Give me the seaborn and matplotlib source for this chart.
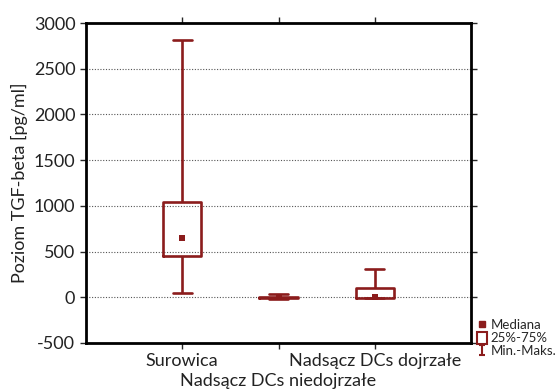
import pandas as pd
import seaborn as sns
import matplotlib.pyplot as plt
from matplotlib.lines import Line2D
from matplotlib.patches import Patch
from matplotlib.path import Path

# min, Q1, mediana, Q3, max
grupy = ["Surowica", "Nadsącz DCs niedojrzałe", "Nadsącz DCs dojrzałe"]
surowica = [45, 455, 645, 1040, 2810]
niedojrzale = [-15, -8, -3, 5, 30]
dojrzale = [-10, -5, 0, 105, 310]
ticki_y = [-500, 0, 500, 1000, 1500, 2000, 2500, 3000]

CZERWONY = "#8b1c1c"

sns.set_style("white")
plt.rcParams["font.family"] = ["Lato", "DejaVu Sans"]
plt.rcParams["axes.unicode_minus"] = False

df = pd.DataFrame({
    "grupa": [g for g, w in zip(grupy, [surowica, niedojrzale, dojrzale]) for _ in w],
    "wartosc": surowica + niedojrzale + dojrzale,
})
mediany = pd.DataFrame({
    "grupa": grupy,
    "wartosc": [surowica[2], niedojrzale[2], dojrzale[2]],
})

fig = plt.figure(figsize=(5.57, 3.91), dpi=100)
ax = fig.add_axes([0.154, 0.123, 0.692, 0.818])

# siatka pod wykresem
for y in ticki_y[1:-1]:
    ax.axhline(y, color="#555555", lw=0.8, ls=(0, (1, 1.5)), zorder=0)

sns.boxplot(data=df, x="grupa", y="wartosc", order=grupy, whis=(0, 100),
            width=0.4, fill=False, color=CZERWONY, linewidth=1.9,
            medianprops=dict(visible=False), ax=ax)
sns.stripplot(data=mediany, x="grupa", y="wartosc", order=grupy, jitter=False,
              marker="s", size=5, color=CZERWONY, linewidth=0, ax=ax, zorder=5)

ax.set_xlim(-1, 3)
ax.set_ylim(-500, 3000)
ax.set_yticks(ticki_y)
ax.set_xticks(range(len(grupy)))
# srodkowa etykieta w drugim wierszu
ax.set_xticklabels([grupy[0], "", grupy[2]], fontsize=13, color="#222222")
ax.annotate(grupy[1], xy=(1, 0), xycoords=ax.get_xaxis_transform(),
            xytext=(0, -22), textcoords="offset points", ha="center", va="top",
            fontsize=13, color="#222222")
ax.tick_params(axis="y", labelsize=13, labelcolor="#222222")
ax.tick_params(axis="both", direction="in", top=True, right=True, length=4, width=1)
ax.tick_params(axis="x", direction="out", bottom=True)
ax.tick_params(axis="y", direction="out", left=True)
ax.tick_params(axis="x", which="major", top=True, labeltop=False)
ax.set_xlabel("")
ax.set_ylabel("Poziom TGF-beta [pg/ml]", fontsize=13, color="#222222")
for s in ax.spines.values():
    s.set_linewidth(2)
    s.set_color("black")

# legenda
znak_I = Path([(-0.6, 1), (0.6, 1), (0, 1), (0, -1), (-0.6, -1), (0.6, -1)],
              [Path.MOVETO, Path.LINETO, Path.MOVETO, Path.LINETO, Path.MOVETO, Path.LINETO])
uchwyty = [
    Line2D([], [], marker="s", ls="", color=CZERWONY, markersize=4),
    Patch(facecolor="white", edgecolor=CZERWONY, linewidth=1.5),
    Line2D([], [], marker=znak_I, ls="", color=CZERWONY, markersize=7,
           markerfacecolor="none", markeredgewidth=1.5),
]
fig.legend(uchwyty, ["Mediana", "25%-75%", "Min.-Maks."], loc="upper left",
           bbox_to_anchor=(0.857, 0.185), frameon=False, fontsize=9.5,
           handlelength=0.7, handleheight=1.0, handletextpad=0.3,
           labelspacing=0.05, borderpad=0, borderaxespad=0)

fig.savefig("out.png", dpi=100)
